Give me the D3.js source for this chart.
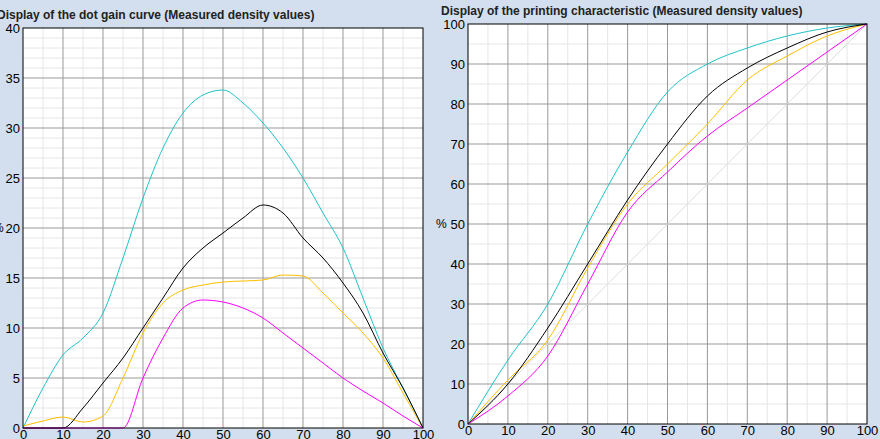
<!DOCTYPE html><html><head><meta charset="utf-8"><script src="https://cdn.jsdelivr.net/npm/d3@7"></script>
<style>body{margin:0;background:#d3dfee}svg{display:block}text{font-family:"Liberation Sans",Arial,sans-serif}</style></head><body><svg id="c" width="880" height="439"></svg><script>
const xs=[0,5,10,15,20,25,30,35,40,45,50,55,60,65,70,75,80,85,90,95,100];
const gainCyan=[0,4,7.3,9,11.5,17,23,28,31.5,33.3,33.8,32.5,30.5,28,25,21.5,18,13,8,4,0];
const gainBlack=[0,0,0,2,4.5,7,10,13,16,18,19.5,21,22.3,21.5,19,17,14.5,11.5,7.5,4,0];
const gainYellow=[0.2,0.7,1.1,0.6,1.2,5,9.5,12.5,13.8,14.3,14.6,14.7,14.8,15.3,15.2,13.5,11.5,9.5,7,3.5,0];
const gainMagenta=[0,0,0,0,0,0,5,9,12,12.8,12.6,12,11,9.5,8,6.5,5,3.7,2.5,1.2,0];
const px=[0,10,20,30,40,50,60,70,80,90,100];
const prCyan=[0,16,30,50,68,83,90,94,97,99,100];
const prBlack=[0,10,24,40,56,70,82,89,94,98,100];
const prYellow=[0,11,21,39,55,65,75,86,92,97,100];
const prMagenta=[0,7,17,35,53,63,72,79,86,93,100];
const colors={c:"#1fc3c8",k:"#000",y:"#ffc000",m:"#ff00ff"};
const svg=d3.select("#c");
function panel(o){
 const x=d3.scaleLinear().domain([0,100]).range([o.x0,o.x1]);
 const y=d3.scaleLinear().domain([0,o.ymax]).range([o.y1,o.y0]);
 const g=svg.append("g");
 g.append("rect").attr("x",o.x0).attr("y",o.y0).attr("width",o.x1-o.x0).attr("height",o.y1-o.y0).attr("fill","#fff");
 d3.range(0,101,5).forEach(v=>{if(v%10)g.append("line").attr("x1",x(v)).attr("x2",x(v)).attr("y1",o.y0).attr("y2",o.y1).attr("stroke","#e6e6e6");});
 d3.range(0,o.ymax+0.01,o.ymin).forEach(v=>{if(Math.round(v)%o.ymaj)g.append("line").attr("y1",y(v)).attr("y2",y(v)).attr("x1",o.x0).attr("x2",o.x1).attr("stroke","#e6e6e6");});
 d3.range(10,100,10).forEach(v=>g.append("line").attr("x1",x(v)).attr("x2",x(v)).attr("y1",o.y0).attr("y2",o.y1).attr("stroke","#999"));
 d3.range(o.ymaj,o.ymax,o.ymaj).forEach(v=>g.append("line").attr("y1",y(v)).attr("y2",y(v)).attr("x1",o.x0).attr("x2",o.x1).attr("stroke","#999"));
 if(o.diag)g.append("line").attr("x1",x(0)).attr("y1",y(0)).attr("x2",x(100)).attr("y2",y(100)).attr("stroke","#ddd");
 const line=d3.line().x(d=>x(d[0])).y(d=>y(d[1])).curve(d3.curveMonotoneX);
 o.series.forEach(s=>g.append("path").attr("d",line(o.xs.map((v,i)=>[v,s[1][i]]))).attr("fill","none").attr("stroke",s[0]).attr("stroke-width",1));
 g.append("rect").attr("x",o.x0).attr("y",o.y0).attr("width",o.x1-o.x0).attr("height",o.y1-o.y0).attr("fill","none").attr("stroke","#000");
 const xa=g.append("g").attr("transform",`translate(0,${o.y1})`).call(d3.axisBottom(x).tickValues(d3.range(0,101,10)).tickSize(0).tickPadding(2));
 const ya=g.append("g").attr("transform",`translate(${o.x0},0)`).call(d3.axisLeft(y).tickValues(d3.range(0,o.ymax+1,o.ymaj)).tickSize(0).tickPadding(3));
 [xa,ya].forEach(a=>{a.select(".domain").remove();a.selectAll("text").attr("font-size",13).attr("fill","#000").attr("font-family","Liberation Sans, Arial, sans-serif");});
 g.append("text").attr("x",o.tx).attr("y",o.y0-9).attr("font-size",12).attr("font-weight","bold").attr("fill","#222").text(o.title);
 g.append("text").attr("x",o.px).attr("y",y(o.ymax/2)+4).attr("font-size",12).text("%");
}
panel({x0:23,x1:423,y0:28,y1:428,ymax:40,ymin:1,ymaj:5,xs:xs,tx:-3,px:-7,title:"Display of the dot gain curve (Measured density values)",
 series:[[colors.c,gainCyan],[colors.y,gainYellow],[colors.k,gainBlack],[colors.m,gainMagenta]]});
panel({x0:468,x1:867,y0:24,y1:424,ymax:100,ymin:5,ymaj:10,xs:px,tx:441,px:436,diag:true,title:"Display of the printing characteristic (Measured density values)",
 series:[[colors.c,prCyan],[colors.y,prYellow],[colors.k,prBlack],[colors.m,prMagenta]]});
</script></body></html>
